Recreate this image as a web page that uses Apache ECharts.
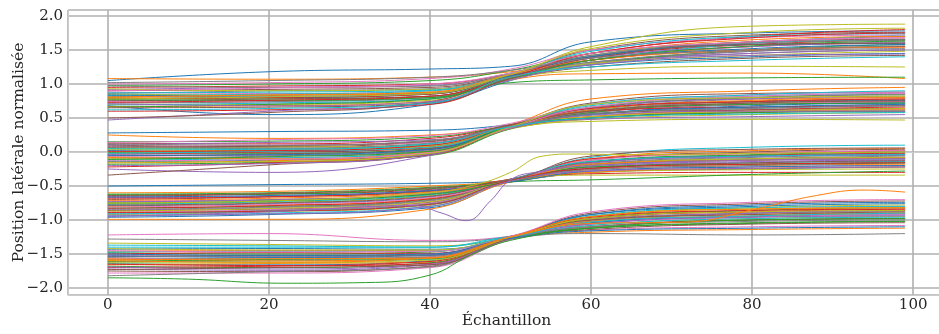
<!DOCTYPE html>
<html>
<head>
<meta charset="utf-8">
<script src="https://cdn.jsdelivr.net/npm/echarts@6/dist/echarts.min.js"></script>
<style>html,body{margin:0;padding:0;background:#fff}#c{width:939px;height:334px}</style>
</head>
<body>
<div id="c"></div>
<script>
// Sample positions (Échantillon) at which each trajectory was read
const sampleX = [0, 20, 40, 50, 60, 80, 99];

// Lane band A (top)
const bandA = [
[1.05,1.18,1.22,1.26,1.62,1.75,1.78],[1.08,1.07,1.10,1.18,1.35,1.55,1.60],[0.98,1.00,1.05,1.20,1.45,1.62,1.70],
[0.95,0.97,1.00,1.15,1.40,1.58,1.65],[0.92,0.95,0.98,1.12,1.30,1.48,1.55],[0.90,0.92,0.95,1.15,1.50,1.72,1.76],
[0.88,0.86,0.90,1.10,1.38,1.55,1.62],[0.86,0.90,0.93,1.12,1.32,1.45,1.50],[0.85,0.84,0.88,1.14,1.55,1.85,1.88],
[0.83,0.85,0.90,1.10,1.35,1.60,1.72],[0.82,0.80,0.85,1.08,1.28,1.40,1.45],[0.80,0.83,0.87,1.12,1.42,1.65,1.70],
[0.79,0.78,0.82,1.10,1.30,1.50,1.58],[0.78,0.80,0.85,1.13,1.45,1.70,1.80],[0.76,0.75,0.80,1.10,1.38,1.55,1.60],
[0.75,0.78,0.82,1.08,1.25,1.38,1.42],[0.74,0.72,0.78,1.12,1.40,1.62,1.68],[0.72,0.74,0.80,1.10,1.32,1.48,1.52],
[0.70,0.70,0.76,1.08,1.20,1.26,1.25],[0.69,0.72,0.78,1.12,1.42,1.60,1.65],[0.68,0.55,0.70,1.05,1.35,1.52,1.58],
[0.67,0.68,0.74,1.06,1.15,1.16,1.08],[0.66,0.70,0.78,1.02,1.06,1.09,1.10],[0.60,0.62,0.70,1.08,1.35,1.50,1.55],
[0.47,0.60,0.72,1.10,1.30,1.45,1.50],[0.50,0.58,0.74,1.12,1.40,1.62,1.66],[1.00,1.02,1.08,1.22,1.50,1.68,1.72],
[0.97,0.95,0.97,1.16,1.42,1.60,1.64],[0.93,0.90,0.92,1.10,1.30,1.42,1.48],[0.87,0.88,0.91,1.15,1.48,1.70,1.74],
[0.84,0.82,0.86,1.12,1.40,1.58,1.60],[0.81,0.84,0.88,1.14,1.35,1.50,1.54],[0.77,0.76,0.80,1.08,1.35,1.56,1.63],
[0.73,0.76,0.82,1.10,1.45,1.68,1.75],[0.71,0.68,0.74,1.06,1.28,1.42,1.44],[0.65,0.66,0.72,1.08,1.38,1.58,1.60],
[0.90,0.94,1.00,1.16,1.45,1.62,1.68],[1.02,1.05,1.10,1.20,1.38,1.50,1.56],[0.78,0.81,0.86,1.14,1.52,1.76,1.82],
[0.62,0.64,0.72,1.10,1.25,1.35,1.40]
];

// Lane band B
const bandB = [
[0.28,0.30,0.32,0.40,0.55,0.70,0.72],[0.25,0.20,0.25,0.38,0.60,0.75,0.78],[0.15,0.16,0.22,0.40,0.65,0.80,0.85],
[0.13,0.12,0.20,0.38,0.58,0.70,0.74],[0.11,0.14,0.18,0.36,0.50,0.60,0.62],[0.10,0.08,0.15,0.40,0.72,0.86,0.88],
[0.08,0.10,0.14,0.37,0.55,0.65,0.70],[0.06,0.05,0.12,0.38,0.62,0.78,0.82],[0.05,0.07,0.10,0.35,0.48,0.55,0.58],
[0.03,0.04,0.10,0.39,0.68,0.82,0.86],[0.02,0.00,0.08,0.36,0.55,0.68,0.72],[0.00,0.03,0.08,0.40,0.78,0.90,0.95],
[-0.01,-0.02,0.05,0.37,0.60,0.72,0.76],[-0.03,0.00,0.06,0.35,0.52,0.62,0.66],[-0.04,-0.05,0.03,0.38,0.64,0.78,0.80],
[-0.06,-0.03,0.04,0.36,0.50,0.58,0.60],[-0.07,-0.08,0.00,0.37,0.58,0.70,0.74],[-0.09,-0.06,0.02,0.39,0.66,0.80,0.84],
[-0.10,-0.10,-0.02,0.34,0.45,0.48,0.47],[-0.12,-0.09,0.00,0.36,0.55,0.64,0.68],[-0.14,-0.12,-0.03,0.35,0.62,0.74,0.76],
[-0.16,-0.13,-0.04,0.37,0.52,0.60,0.62],[-0.18,-0.15,-0.05,0.34,0.58,0.70,0.72],[-0.22,-0.16,-0.04,0.36,0.60,0.66,0.68],
[-0.25,-0.30,-0.05,0.35,0.48,0.52,0.55],[-0.34,-0.19,-0.03,0.36,0.56,0.62,0.64],[0.14,0.18,0.24,0.42,0.70,0.84,0.88],
[0.09,0.06,0.13,0.38,0.60,0.74,0.77],[0.04,0.02,0.09,0.37,0.52,0.60,0.64],[-0.02,0.01,0.07,0.38,0.70,0.84,0.90],
[-0.05,-0.04,0.04,0.36,0.56,0.66,0.70],[-0.08,-0.10,0.00,0.35,0.62,0.76,0.80],[-0.11,-0.07,0.01,0.37,0.50,0.58,0.60],
[0.01,0.02,0.10,0.39,0.64,0.74,0.78],[-0.20,-0.17,-0.03,0.35,0.54,0.60,0.60],[0.07,0.09,0.16,0.40,0.60,0.72,0.75],
[-0.13,-0.11,-0.01,0.36,0.66,0.82,0.86],[0.12,0.10,0.17,0.38,0.56,0.64,0.68],[-0.15,-0.14,-0.02,0.37,0.70,0.80,0.82],
[0.05,0.04,0.12,0.37,0.50,0.56,0.58]
];

// Lane band C
const bandC = [
[-0.50,-0.48,-0.46,-0.42,-0.30,-0.25,-0.22],[-0.60,-0.58,-0.50,-0.40,-0.10,0.02,0.05],[-0.62,-0.60,-0.52,-0.42,-0.20,-0.12,-0.10],
[-0.65,-0.62,-0.55,-0.40,-0.15,-0.05,-0.02],[-0.67,-0.65,-0.56,-0.43,-0.25,-0.18,-0.15],[-0.70,-0.66,-0.58,-0.41,-0.12,0.00,0.04],
[-0.72,-0.70,-0.60,-0.42,-0.22,-0.15,-0.12],[-0.74,-0.70,-0.62,-0.40,-0.18,-0.08,-0.05],[-0.76,-0.74,-0.64,-0.44,-0.30,-0.26,-0.25],
[-0.77,-0.73,-0.63,-0.41,-0.08,0.07,0.10],[-0.79,-0.76,-0.66,-0.42,-0.20,-0.10,-0.08],[-0.80,-0.78,-0.68,-0.43,-0.26,-0.20,-0.18],
[-0.82,-0.80,-0.70,-0.41,-0.14,-0.04,0.00],[-0.83,-0.79,-0.69,-0.44,-0.32,-0.30,-0.30],[-0.85,-0.82,-0.72,-0.42,-0.22,-0.14,-0.12],
[-0.86,-0.84,-0.74,-0.40,-0.16,-0.06,-0.03],[-0.88,-0.85,-0.75,-0.43,-0.28,-0.22,-0.20],[-0.90,-0.86,-0.76,-0.41,-0.18,-0.10,-0.06],
[-0.92,-0.88,-0.78,-0.44,-0.34,-0.34,-0.34],[-0.94,-0.90,-0.80,-0.42,-0.24,-0.16,-0.14],[-0.96,-0.92,-0.82,-0.43,-0.20,-0.12,-0.10],
[-0.99,-0.99,-0.84,-0.44,-0.30,-0.24,-0.22],[-0.63,-0.62,-0.54,-0.44,-0.41,-0.33,-0.28],[-0.68,-0.66,-0.57,-0.42,-0.10,-0.02,0.02],
[-0.73,-0.71,-0.61,-0.41,-0.16,-0.07,-0.04],[-0.78,-0.75,-0.65,-0.43,-0.24,-0.16,-0.13],[-0.81,-0.77,-0.67,-0.42,-0.12,-0.02,0.02],
[-0.84,-0.81,-0.71,-0.43,-0.26,-0.20,-0.16],[-0.87,-0.83,-0.73,-0.42,-0.20,-0.10,-0.08],[-0.91,-0.87,-0.77,-0.41,-0.14,-0.06,-0.04],
[-0.66,-0.64,-0.57,-0.44,-0.28,-0.22,-0.20],[-0.71,-0.68,-0.59,-0.42,-0.18,-0.12,-0.09],[-0.75,-0.72,-0.62,-0.43,-0.22,-0.18,-0.16],
[-0.89,-0.87,-0.77,-0.42,-0.24,-0.18,-0.16],[-0.93,-0.91,-0.80,-0.43,-0.28,-0.24,-0.22],[-0.64,-0.61,-0.53,-0.41,-0.06,0.04,0.06]
];

// Lane band D (bottom)
const bandD = [
[-1.22,-1.20,-1.30,-1.24,-1.00,-0.85,-0.80],[-1.28,-1.30,-1.32,-1.25,-1.05,-0.90,-0.88],[-1.34,-1.36,-1.38,-1.26,-0.95,-0.82,-0.78],
[-1.40,-1.40,-1.40,-1.24,-1.10,-1.00,-0.98],[-1.43,-1.42,-1.43,-1.27,-0.92,-0.78,-0.74],[-1.46,-1.45,-1.45,-1.25,-1.02,-0.92,-0.90],
[-1.48,-1.50,-1.47,-1.26,-1.12,-1.05,-1.02],[-1.50,-1.48,-1.49,-1.24,-0.98,-0.88,-0.84],[-1.52,-1.54,-1.51,-1.27,-1.06,-0.95,-0.94],
[-1.54,-1.52,-1.52,-1.25,-0.90,-0.76,-0.72],[-1.56,-1.58,-1.54,-1.26,-1.15,-1.10,-1.08],[-1.58,-1.56,-1.55,-1.24,-1.00,-0.90,-0.86],
[-1.60,-1.62,-1.57,-1.27,-1.08,-0.98,-0.95],[-1.62,-1.60,-1.58,-1.25,-0.94,-0.82,-0.80],[-1.64,-1.66,-1.60,-1.26,-1.04,-0.95,-0.92],
[-1.66,-1.64,-1.62,-1.28,-1.18,-1.14,-1.12],[-1.68,-1.70,-1.63,-1.25,-0.98,-0.86,-0.82],[-1.70,-1.68,-1.64,-1.27,-1.10,-1.00,-0.98],
[-1.72,-1.74,-1.66,-1.26,-1.02,-0.90,-0.86],[-1.75,-1.76,-1.68,-1.28,-1.14,-1.06,-1.04],[-1.78,-1.78,-1.70,-1.29,-1.06,-0.96,-0.92],
[-1.82,-1.76,-1.69,-1.28,-1.20,-1.22,-1.20],[-1.42,-1.44,-1.44,-1.25,-0.96,-0.84,-0.82],[-1.47,-1.46,-1.46,-1.26,-1.08,-0.98,-0.96],
[-1.53,-1.55,-1.52,-1.25,-0.92,-0.80,-0.76],[-1.57,-1.60,-1.56,-1.26,-1.02,-0.94,-0.90],[-1.61,-1.58,-1.57,-1.27,-1.12,-1.04,-1.02],
[-1.65,-1.67,-1.61,-1.25,-0.96,-0.86,-0.84],[-1.69,-1.72,-1.65,-1.28,-1.06,-0.96,-0.94],[-1.73,-1.70,-1.66,-1.27,-1.00,-0.92,-0.88],
[-1.45,-1.47,-1.46,-1.24,-0.88,-0.74,-0.70],[-1.55,-1.53,-1.53,-1.26,-1.10,-1.02,-1.00],[-1.63,-1.63,-1.59,-1.26,-0.98,-0.88,-0.86],
[-1.37,-1.38,-1.40,-1.25,-1.03,-0.94,-0.90],[-1.50,-1.52,-1.50,-1.27,-1.16,-1.12,-1.10],[-1.59,-1.57,-1.56,-1.25,-0.95,-0.84,-0.82]
];

// Individually read outlier trajectories
const purpleDipX = [0, 20, 38, 41.5, 44.5, 47.5, 50, 53, 60, 80, 99];
const purpleDipY = [-0.95, -0.88, -0.79, -0.90, -1.01, -0.72, -0.41, -0.30, -0.20, -0.12, -0.10];
const oliveRiseX = [0, 20, 40, 46, 50, 54, 58, 65, 80, 99];
const oliveRiseY = [-0.75, -0.72, -0.60, -0.47, -0.30, -0.06, -0.03, -0.04, -0.02, 0.00];
const greenLowX = [0, 10, 22, 32, 40, 45, 50, 60, 80, 99];
const greenLowY = [-1.85, -1.87, -1.93, -1.92, -1.81, -1.52, -1.30, -1.12, -1.00, -0.98];
const orangeHighX = [0, 20, 40, 50, 60, 72, 80, 88, 94, 99];
const orangeHighY = [-1.60, -1.62, -1.56, -1.25, -1.05, -1.03, -0.85, -0.64, -0.56, -0.59];

const palette = ['#1f77b4','#ff7f0e','#2ca02c','#d62728','#9467bd','#8c564b','#e377c2','#7f7f7f','#bcbd22','#17becf'];
const FONT = 'DejaVu Serif';

function lineSeries(xs, ys, color) {
  return {
    type: 'line', xAxisIndex: 0, yAxisIndex: 0,
    data: xs.map((x, i) => [x, ys[i]]),
    smooth: 0.45, showSymbol: false, symbol: 'none',
    lineStyle: { width: 1, color: color }, silent: true, animation: false,
    emphasis: { disabled: true }
  };
}

const series = [];
let k = 0;
[bandA, bandB, bandC, bandD].forEach(band => {
  band.forEach(ys => { series.push(lineSeries(sampleX, ys, palette[k % 10])); k++; });
});
series.push(lineSeries(purpleDipX, purpleDipY, '#9467bd'));
series.push(lineSeries(oliveRiseX, oliveRiseY, '#bcbd22'));
series.push(lineSeries(greenLowX, greenLowY, '#2ca02c'));
series.push(lineSeries(orangeHighX, orangeHighY, '#ff7f0e'));

const fmt = v => v.toFixed(1).replace('-', '\u2212');

const chart = echarts.init(document.getElementById('c'), null, { renderer: 'canvas' });
chart.setOption({
  animation: false,
  backgroundColor: '#fff',
  grid: { left: 68, right: -6, top: 10, bottom: 39, containLabel: false, outerBoundsMode: 'none' },
  xAxis: [{
    type: 'value', min: -4.95, max: 103.95, splitNumber: 5,
    name: 'Échantillon', nameLocation: 'middle', nameGap: 18, nameMoveOverlap: false,
    nameTextStyle: { fontFamily: FONT, fontSize: 15.5, color: '#262626' },
    axisLine: { show: true, onZero: false, lineStyle: { color: '#cccccc', width: 1 } },
    axisTick: { show: false },
    axisLabel: { fontFamily: FONT, fontSize: 15, color: '#262626', margin: 3, showMinLabel: false, showMaxLabel: false },
    splitLine: { show: true, lineStyle: { color: '#b0b0b0', width: 1.6 } }
  }, {
    type: 'value', min: -4.95, max: 103.95, position: 'top',
    axisLine: { show: true, lineStyle: { color: '#cccccc', width: 1 } },
    axisTick: { show: false }, axisLabel: { show: false }, splitLine: { show: false }
  }],
  yAxis: [{
    type: 'value', min: -2.103, max: 2.088, splitNumber: 8,
    name: 'Position latérale normalisée', nameLocation: 'middle', nameGap: 41, nameMoveOverlap: false,
    nameTextStyle: { fontFamily: FONT, fontSize: 15.5, color: '#262626' },
    axisLine: { show: true, onZero: false, lineStyle: { color: '#cccccc', width: 1 } },
    axisTick: { show: false },
    axisLabel: { fontFamily: FONT, fontSize: 15, color: '#262626', margin: 5, formatter: fmt, showMinLabel: false, showMaxLabel: false },
    splitLine: { show: true, lineStyle: { color: '#b0b0b0', width: 1.6 } }
  }],
  series: series
});
</script>
</body>
</html>
